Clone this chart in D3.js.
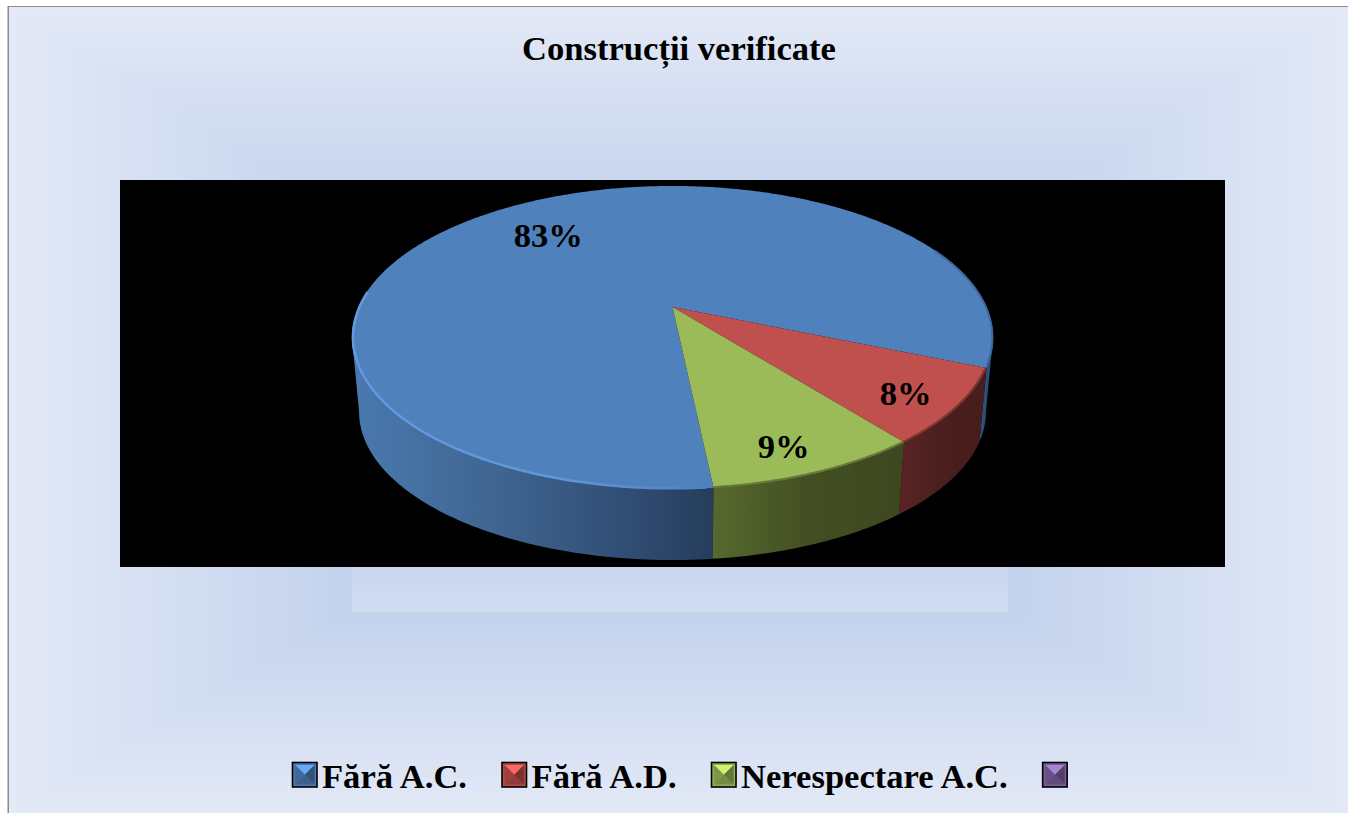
<!DOCTYPE html>
<html>
<head>
<meta charset="utf-8">
<title>Construcții verificate</title>
<script src="https://cdn.jsdelivr.net/npm/d3@7"></script>
<style>
    html, body { margin: 0; padding: 0; background: #fff; overflow: hidden; }
    svg { display: block; }
    text { font-family: "Liberation Serif", serif; font-weight: bold; fill: #000; }
</style>
</head>
<body>
<div id="chart"></div>
<script>
const title = 'Construcții verificate';
const categories = ['Fără A.C.', 'Fără A.D.', 'Nerespectare A.C.', ''];
const values = [83, 8, 9, 0];
const seriesColors = ['#4f81bd', '#c0504d', '#9bbb59', '#8064a2'];
const rimColors = ['#4f81bd', '#7d3533', '#66793a', '#8064a2'];
const wallColors = [
    ['#4a79b0', '#3f6590', '#33527a', '#263e5e', '#2c5079'],
    ['#5a2524', '#4a1f1e', '#451d1c'],
    ['#56692e', '#434f22', '#3d4820']
];
const wallOffsets = [
    [0, 0.23, 0.39, 0.56, 0.98],
    [0, 0.5, 1],
    [0, 0.5, 1]
];
const wallRanges = [[352, 990], [896, 990], [712, 900]];

const width = 1348;
const height = 813;
const fontSize = 34.6;
const svg = d3.select('#chart').append('svg')
    .attr('width', width)
    .attr('height', height);
const defs = svg.append('defs');

// plate with the rectangular path gradient
const plate = { x: 9, y: 7, w: 1340, h: 807 };
const plateColor = d3.scaleLinear()
    .domain([0, 0.5, 1])
    .range(['#e3e9f6', '#c3d2ed', '#bfcfec'])
    .interpolate(d3.interpolateRgb);
svg.append('rect')
    .attr('x', plate.x - 1.5).attr('y', plate.y - 1)
    .attr('width', plate.w + 2).attr('height', plate.h + 2)
    .attr('fill', '#8c8c8c');
svg.append('g').selectAll('rect')
    .data(d3.range(0, 1, 1 / 90))
    .join('rect')
    .attr('x', d => plate.x + d * plate.w / 2)
    .attr('y', d => plate.y + d * plate.h / 2)
    .attr('width', d => plate.w * (1 - d))
    .attr('height', d => plate.h * (1 - d))
    .attr('fill', d => plateColor(d));

// pale strip under the black plot area
const strip = defs.append('linearGradient').attr('id', 'stripFill')
    .attr('x1', 0).attr('y1', 0).attr('x2', 0).attr('y2', 1);
strip.append('stop').attr('offset', 0).attr('stop-color', '#c8d6ee');
strip.append('stop').attr('offset', 1).attr('stop-color', '#d2ddf2');
svg.append('rect')
    .attr('x', 352).attr('y', 567).attr('width', 656).attr('height', 45)
    .attr('fill', 'url(#stripFill)');

svg.append('rect')
    .attr('x', 120).attr('y', 180).attr('width', 1105).attr('height', 387)
    .attr('fill', '#000');

// 3D pie: unit circle seen in perspective
const persp = 0.2013;
const topDisc = { x: 672.5, y: 307, a: 314, b: 145.4 };
const bottomDisc = { x: 672.5, y: 382, a: 307, b: 142.2 };
function project(disc, theta, r = 1) {
    const u = r * Math.cos(theta);
    const v = r * Math.sin(theta);
    const w = 1 - persp * v;
    return [disc.x + disc.a * u / w, disc.y + disc.b * v / w];
}
function arcAngles(a0, a1) {
    const n = Math.max(2, Math.ceil(Math.abs(a1 - a0) / 0.01));
    return d3.range(n + 1).map(i => a0 + (a1 - a0) * i / n);
}
const rad = Math.PI / 180;
const pie = d3.pie().sort(null).value(d => d)
    .startAngle(84 * rad)
    .endAngle(84 * rad + 2 * Math.PI);
const slices = pie(values);
const drawn = slices.filter(d => d.value > 0);
const line = d3.line();

// only the front of the wall is visible, between the two tangent angles
const tangent = Math.asin(persp);
function frontParts(d) {
    const parts = [];
    [0, 2 * Math.PI].forEach(turn => {
        const a0 = Math.max(d.startAngle, tangent + turn);
        const a1 = Math.min(d.endAngle, Math.PI - tangent + turn);
        if (a1 > a0) parts.push({ index: d.index, a0, a1 });
    });
    return parts;
}

wallColors.forEach((stops, i) => {
    const g = defs.append('linearGradient').attr('id', `wall${i}`)
        .attr('gradientUnits', 'userSpaceOnUse')
        .attr('x1', wallRanges[i][0]).attr('y1', 0)
        .attr('x2', wallRanges[i][1]).attr('y2', 0);
    stops.forEach((c, j) => {
        g.append('stop').attr('offset', wallOffsets[i][j]).attr('stop-color', c);
    });
});
const walls = drawn.flatMap(frontParts);
svg.append('g').selectAll('path')
    .data(walls)
    .join('path')
    .attr('fill', d => `url(#wall${d.index})`)
    .attr('d', d => {
        const angles = arcAngles(d.a0, d.a1);
        const upper = angles.map(t => project(topDisc, t));
        const lower = angles.slice().reverse().map(t => project(bottomDisc, t));
        return line(upper.concat(lower)) + 'Z';
    });

// top faces
svg.append('g').selectAll('path')
    .data(drawn)
    .join('path')
    .attr('fill', d => seriesColors[d.index])
    .attr('d', d => {
        const pts = arcAngles(d.startAngle, d.endAngle).map(t => project(topDisc, t));
        return line([[topDisc.x, topDisc.y]].concat(pts)) + 'Z';
    });

// soft edge where the top face meets the wall
svg.append('g').selectAll('path')
    .data(walls.filter(d => d.index > 0))
    .join('path')
    .attr('fill', 'none')
    .attr('stroke', d => rimColors[d.index])
    .attr('stroke-width', 2)
    .attr('d', d => line(arcAngles(d.a0, d.a1).map(t => project(topDisc, t, 0.997))));

// rim light along the front edge of the big slice
const rim = defs.append('linearGradient').attr('id', 'rimLight')
    .attr('gradientUnits', 'userSpaceOnUse')
    .attr('x1', 352).attr('y1', 0).attr('x2', 712).attr('y2', 0);
rim.append('stop').attr('offset', 0).attr('stop-color', '#659ae0');
rim.append('stop').attr('offset', 0.6).attr('stop-color', '#6296d8');
rim.append('stop').attr('offset', 1).attr('stop-color', '#4f81bd');
svg.append('path')
    .attr('fill', 'none')
    .attr('stroke', 'url(#rimLight)')
    .attr('stroke-width', 2.5)
    .attr('d', line(arcAngles(85 * rad, 186 * rad).map(t => project(topDisc, t, 0.997))));
svg.append('path')
    .attr('fill', 'none')
    .attr('stroke', '#40689a')
    .attr('stroke-width', 2)
    .attr('d', line(arcAngles(-25 * rad, 22 * rad).map(t => project(topDisc, t, 0.998))));

// percent labels, nudged the way the original placed them
const labelNudge = [-6.5, -5.5, -9.5];
svg.append('g').selectAll('text')
    .data(drawn)
    .join('text')
    .attr('text-anchor', 'middle')
    .attr('font-size', fontSize)
    .attr('dy', '0.34em')
    .attr('transform', d => {
        const mid = (d.startAngle + d.endAngle) / 2;
        const p = project(topDisc, mid, d.value > 50 ? 0.7 : 0.855);
        return `translate(${p[0] + labelNudge[d.index]},${p[1] + 2})`;
    })
    .text(d => `${d.value}%`);

svg.append('text')
    .attr('x', 679).attr('y', 60)
    .attr('text-anchor', 'middle')
    .attr('font-size', fontSize)
    .text(title);

// legend, laid out left to right
function bevel(g, size, color) {
    const c = d3.color(color);
    const m = size / 2;
    const k = 2.5;
    const e = size - k;
    const faces = [
        { fill: c.brighter(0.75), pts: [[k, k], [e, k], [m, m]] },
        { fill: c.darker(1.3), pts: [[e, k], [e, e], [m, m]] },
        { fill: c.darker(0.8), pts: [[k, e], [e, e], [m, m]] },
        { fill: c.darker(0.6), pts: [[k, k], [k, e], [m, m]] }
    ];
    g.append('rect')
        .attr('width', size).attr('height', size)
        .attr('fill', c.darker(0.2));
    g.selectAll('polygon')
        .data(faces)
        .join('polygon')
        .attr('points', d => d.pts.join(' '))
        .attr('fill', d => d.fill);
    g.append('rect')
        .attr('width', size).attr('height', size)
        .attr('fill', 'none')
        .attr('stroke', '#000')
        .attr('stroke-width', 1.6);
}
let legendX = 292.5;
categories.forEach((name, i) => {
    const item = svg.append('g').attr('transform', `translate(${legendX},762.5)`);
    bevel(item, 24.5, seriesColors[i]);
    const label = item.append('text')
        .attr('x', 29.5).attr('y', 25.5)
        .attr('font-size', fontSize)
        .text(name);
    legendX += 29.5 + label.node().getComputedTextLength() + 35;
});
</script>
</body>
</html>
